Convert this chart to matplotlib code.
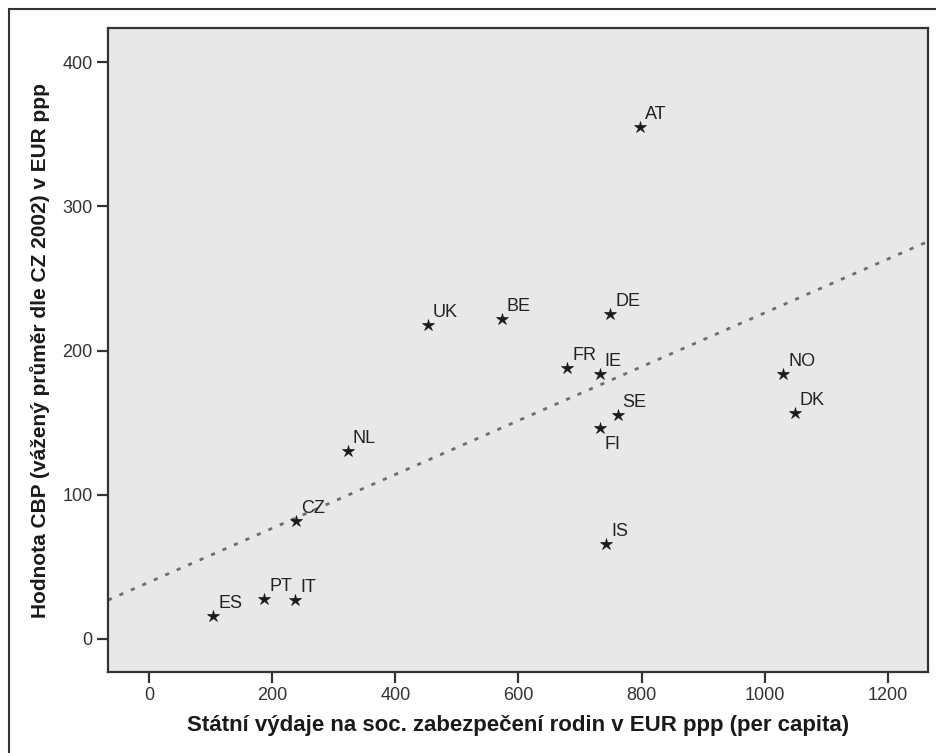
import numpy as np
import matplotlib
matplotlib.use("Agg")
import matplotlib.pyplot as plt
from matplotlib.patches import Rectangle

# Country codes and values
countries = ["ES", "PT", "IT", "CZ", "NL", "UK", "BE", "FR", "IE", "DE",
             "SE", "FI", "IS", "AT", "NO", "DK"]
spending = [104, 187, 237, 239, 323, 453, 573, 679, 732, 749,
            761, 732, 742, 797, 1030, 1049]
cbp_value = [16, 28, 27, 82, 130, 218, 222, 188, 184, 225,
             155, 146, 66, 355, 184, 157]

x_ticks = [0, 200, 400, 600, 800, 1000, 1200]
y_ticks = [0, 100, 200, 300, 400]

x_label = "Státní výdaje na soc. zabezpečení rodin v EUR ppp (per capita)"
y_label = "Hodnota CBP (vážený průměr dle CZ 2002) v EUR ppp"

# labels that sit below their marker
below = {"FI"}

plt.rcParams["font.family"] = ["Liberation Sans", "DejaVu Sans"]

fig = plt.figure(figsize=(9.36, 7.53), dpi=100)
fig.patch.set_facecolor("white")

# outer frame around the chart
fig.add_artist(Rectangle((9 / 936, -0.05), 1.2, 1 - 9 / 753 + 0.05,
                         transform=fig.transFigure, fill=False,
                         edgecolor="#333333", linewidth=1.5))

ax = fig.add_axes([108 / 936, 1 - 672 / 753, (928 - 108) / 936, (672 - 28) / 753])
ax.set_facecolor("#e8e8e8")

ax.set_xlim(-66.6, 1265)
ax.set_ylim(-22.9, 423.6)

x = np.array(spending, dtype=float)
y = np.array(cbp_value, dtype=float)

# least-squares fit line across the full x range
slope, intercept = np.polyfit(x, y, 1)
xl = np.array(ax.get_xlim())
ax.plot(xl, intercept + slope * xl, linestyle=(0, (1.5, 3.0)),
        color="#6e6e6e", linewidth=2.0, dash_capstyle="butt", zorder=2)

ax.plot(x, y, linestyle="none", marker="*", markersize=9,
        color="#1a1a1a", markeredgewidth=0.5, zorder=3)

for name, xv, yv in zip(countries, spending, cbp_value):
    if name in below:
        ax.annotate(name, (xv, yv), xytext=(5, -8), textcoords="offset pixels",
                    ha="left", va="top", fontsize=13, color="#222222")
    else:
        ax.annotate(name, (xv, yv), xytext=(5, 8), textcoords="offset pixels",
                    ha="left", va="baseline", fontsize=13, color="#222222")

ax.set_xticks(x_ticks)
ax.set_yticks(y_ticks)
ax.set_xticklabels([str(t) for t in x_ticks])
ax.set_yticklabels([str(t) for t in y_ticks])
ax.tick_params(axis="both", direction="out", length=8, width=1.6,
               color="#333333", labelsize=13, labelcolor="#333333", pad=3)
ax.tick_params(top=False, right=False)

for sp in ax.spines.values():
    sp.set_color("#333333")
    sp.set_linewidth(1.6)

ax.set_xlabel(x_label, fontsize=16, fontweight="bold", color="#1a1a1a", labelpad=8)
ax.set_ylabel(y_label, fontsize=15, fontweight="bold", color="#1a1a1a", labelpad=9)

fig.savefig("out.png", dpi=100, facecolor="white")
